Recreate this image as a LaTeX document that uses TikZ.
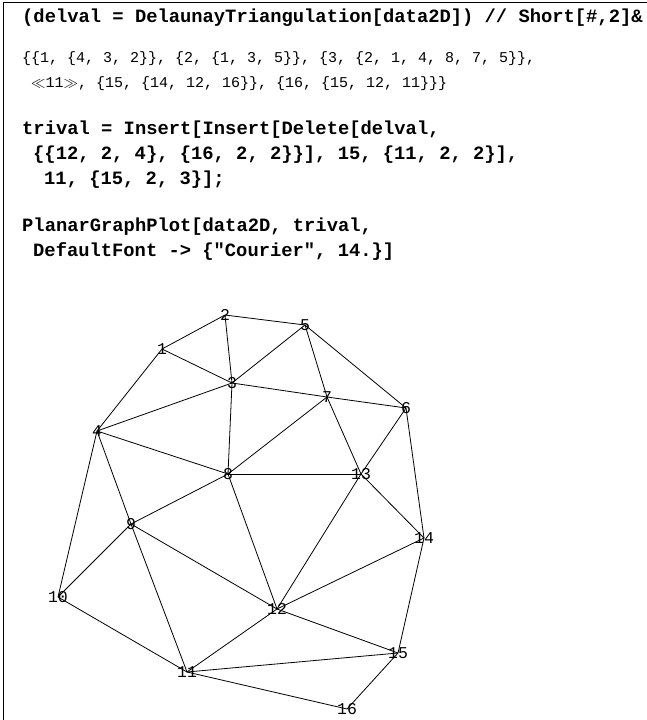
\documentclass[tikz,border=0pt]{standalone}
\usepackage{fontspec}
\setmonofont{Liberation Mono}

\begin{document}
\begin{tikzpicture}[
  x=1pt, y=-1pt,
  inp/.style={anchor=base west, inner sep=0pt, font=\fontsize{18.8}{20}\selectfont\ttfamily\bfseries},
  outp/.style={anchor=base west, inner sep=0pt, font=\fontsize{15}{16}\selectfont\ttfamily},
  lbl/.style={inner sep=0pt, font=\fontsize{16.5}{16}\selectfont\ttfamily},
  edge/.style={line width=0.8pt}
]
\useasboundingbox (0,0) rectangle (647,720);
\draw[line width=1pt] (647,2) -- (3,2) -- (3,720);

% the notebook cells
\node[inp] (in1) at (22,23) {(delval = DelaunayTriangulation[data2D]) // Short[\#,2]\&};
\node[outp] (out1) at (22,62) {\{\{1, \{4, 3, 2\}\}, \{2, \{1, 3, 5\}\}, \{3, \{2, 1, 4, 8, 7, 5\}\},};
\node[outp] (out2) at (31,87) {$\ll$11$\gg$, \{15, \{14, 12, 16\}\}, \{16, \{15, 12, 11\}\}\}};
\node[inp] (in2a) at (22,134) {trival = Insert[Insert[Delete[delval,};
\node[inp] (in2b) at (33,159) {\{\{12, 2, 4\}, \{16, 2, 2\}\}], 15, \{11, 2, 2\}],};
\node[inp] (in2c) at (44,184) {11, \{15, 2, 3\}];};
\node[inp] (in3a) at (22,231) {PlanarGraphPlot[data2D, trival,};
\node[inp] (in3b) at (33,256) {DefaultFont -> \{"Courier", 14.\}]};

% vertices
\coordinate (v1) at (162,349);
\coordinate (v2) at (225,315);
\coordinate (v3) at (232,383);
\coordinate (v4) at (97,431);
\coordinate (v5) at (305,325);
\coordinate (v6) at (406,408);
\coordinate (v7) at (327,397);
\coordinate (v8) at (228,474);
\coordinate (v9) at (131,524);
\coordinate (v10) at (58,597);
\coordinate (v11) at (187,672);
\coordinate (v12) at (277,609);
\coordinate (v13) at (361,474);
\coordinate (v14) at (424,538);
\coordinate (v15) at (398,653);
\coordinate (v16) at (347,709);

\foreach \a/\b in {1/2, 1/3, 1/4, 2/3, 2/5, 3/5, 5/7, 5/6, 3/4, 3/7, 3/8,
    6/7, 7/8, 7/13, 6/13, 6/14, 4/8, 4/9, 4/10, 8/13, 8/9, 8/12, 12/13,
    13/14, 9/10, 9/12, 9/11, 12/14, 14/15, 10/11, 11/12, 12/15, 11/15,
    11/16, 15/16}
  \draw[edge] (v\a) -- (v\b);

\foreach \i in {1,...,16}
  \node[lbl] (n\i) at (v\i) {\i};

\end{tikzpicture}
\end{document}
